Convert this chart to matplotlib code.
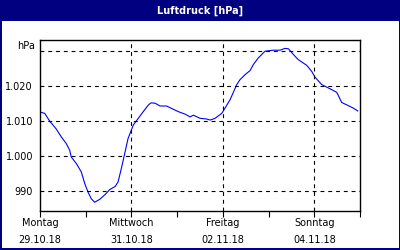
import matplotlib
matplotlib.use('Agg')
import matplotlib.pyplot as plt
from matplotlib.patches import Rectangle

# hours since Montag 29.10.18 00:00
hours = [0.7, 2.5, 5.1, 8.6, 11.2, 13.8, 15.6, 16.4, 19.1, 21.7, 23.5, 25.2, 26.9,
         28.7, 31.3, 34.0, 36.6, 39.5, 41.0, 42.7, 44.5, 46.2, 49.0, 51.6, 54.2,
         56.9, 58.3, 60.4, 63.0, 66.5, 69.1, 72.6, 76.1, 78.8, 80.5, 84.0, 87.5,
         89.3, 91.9, 95.4, 96.8, 99.8, 103.3, 105.0, 107.6, 110.3, 112.0, 114.6,
         118.1, 122.5, 126.0, 128.6, 130.4, 133.0, 135.6, 140.0, 142.6, 144.4,
         147.9, 152.3, 155.8, 158.4, 161.9, 164.5, 166.8]
pressure = [1012.5, 1012.2, 1010.0, 1007.7, 1005.5, 1003.6, 1001.7, 999.8, 997.9,
            995.5, 992.2, 989.8, 987.9, 986.9, 987.7, 989.0, 990.5, 991.4, 992.7,
            996.5, 1000.8, 1005.0, 1008.9, 1010.8, 1012.7, 1014.6, 1015.2, 1015.1,
            1014.3, 1014.3, 1013.6, 1012.7, 1012.0, 1011.2, 1011.7, 1010.8, 1010.6,
            1010.3, 1010.8, 1012.2, 1013.4, 1016.1, 1020.4, 1021.8, 1023.2, 1024.4,
            1026.1, 1028.0, 1029.9, 1030.2, 1030.2, 1030.7, 1030.6, 1029.0, 1027.5,
            1025.9, 1024.2, 1022.5, 1020.4, 1019.2, 1018.2, 1015.3, 1014.4, 1013.7,
            1012.9]

day_ticks = [0, 24, 48, 72, 96, 120, 144, 168]
label_days = [0, 48, 96, 144]
day_names = ['Montag', 'Mittwoch', 'Freitag', 'Sonntag']
day_dates = ['29.10.18', '31.10.18', '02.11.18', '04.11.18']
y_grid = [990, 1000, 1010, 1020, 1030]
y_labels = ['990', '1.000', '1.010', '1.020']

navy = '#000080'
fig = plt.figure(figsize=(4, 2.5), dpi=100, facecolor=navy)
fig.patches.append(Rectangle((1.5/400, 2/250), 397/400, 227/250, transform=fig.transFigure,
                             facecolor='white', edgecolor='none', zorder=-5))
fig.text(0.5, 1 - 10.5/250, 'Luftdruck [hPa]', color='white', fontsize=7,
         fontweight='bold', ha='center', va='center')

ax = fig.add_axes([40/400, 1 - 211/250, 320/400, 171/250], zorder=2)
ax.plot(hours, pressure, color='#0000ff', lw=0.8)
ax.set_xlim(0, 168)
ax.set_ylim(984.4, 1033.1)

# dashed grid
for v in y_grid:
    ax.axhline(v, color='k', lw=0.8, ls=(0, (3.5, 3.5)))
for d in label_days[1:]:
    ax.axvline(d, color='k', lw=0.8, ls=(0, (3.5, 3.5)))

ax.set_yticks(y_grid[:-1])
ax.set_yticklabels(y_labels)
ax.tick_params(axis='y', length=0, labelsize=7, pad=5)
ax.set_xticks(day_ticks)
ax.set_xticklabels([])
ax.tick_params(axis='x', length=4, direction='out', width=0.8)
ax.text(-0.015, 1031.4, 'hPa', fontsize=7, ha='right', va='center',
        transform=ax.get_yaxis_transform())

for d, n, t in zip(label_days, day_names, day_dates):
    ax.text(d, -12/171, n, fontsize=7, ha='center', va='center',
            transform=ax.get_xaxis_transform())
    ax.text(d, -29/171, t, fontsize=7, ha='center', va='center',
            transform=ax.get_xaxis_transform())

for s in ax.spines.values():
    s.set_color('k')
    s.set_linewidth(1)

fig.savefig('out.png', dpi=100, facecolor=navy)
